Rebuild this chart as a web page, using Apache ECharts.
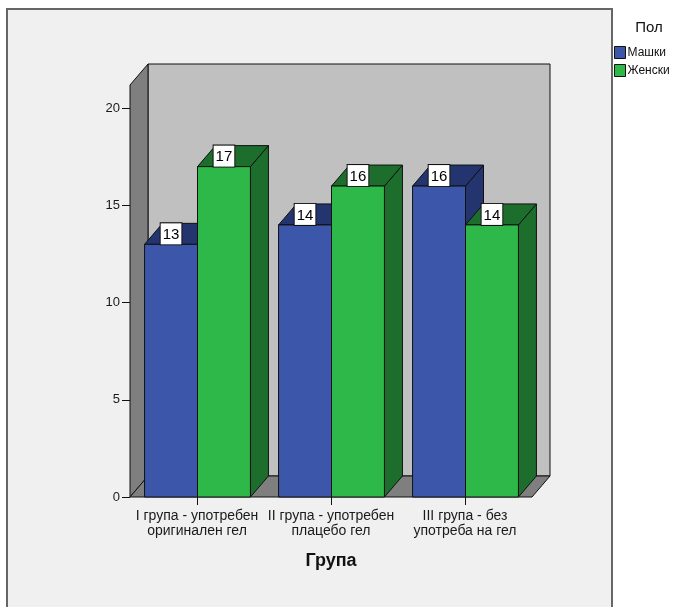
<!DOCTYPE html>
<html>
<head>
<meta charset="utf-8">
<script src="https://cdn.jsdelivr.net/npm/echarts@6/dist/echarts.min.js"></script>
<style>
  html, body { margin: 0; padding: 0; background: #ffffff; }
  #chart { width: 684px; height: 607px; }
</style>
</head>
<body>
<div id="chart"></div>
<script>
// Number of patients by group and sex
const groups = [
  'I група - употребен\nоригинален гел',
  'II група - употребен\nплацебо гел',
  'III група - без\nупотреба на гел'
];
const maleCounts = [13, 14, 16];
const femaleCounts = [17, 16, 14];
const yTicks = [0, 5, 10, 15, 20];
const yTop = 21.2;

const FONT = 'Arial, "Liberation Sans", sans-serif';
const DX = 18, DY = -21;          // depth offset of the 3D box
const EDGE = { stroke: '#111', lineWidth: 1 };

// Back wall, left wall and floor of the 3D plot box
function renderWalls(params) {
  const cs = params.coordSys;
  const L = cs.x, R = cs.x + cs.width, T = cs.y, B = cs.y + cs.height;
  return {
    type: 'group',
    children: [
      { type: 'polygon', shape: { points: [[L + DX, T + DY], [R + DX, T + DY], [R + DX, B + DY], [L + DX, B + DY]] },
        style: Object.assign({ fill: '#c0c0c0' }, EDGE) },
      { type: 'polygon', shape: { points: [[L, B], [L, T], [L + DX, T + DY], [L + DX, B + DY]] },
        style: Object.assign({ fill: '#7f7f7f' }, EDGE) },
      { type: 'polygon', shape: { points: [[L, B], [R, B], [R + DX, B + DY], [L + DX, B + DY]] },
        style: Object.assign({ fill: '#7f7f7f' }, EDGE) }
    ]
  };
}

// One 3D bar: side face, top face, front face and a boxed value label
function barRenderer(frontColor, shadeColor, leftOfCenter) {
  return function (params, api) {
    const cat = api.value(0), val = api.value(1);
    const base = api.coord([cat, 0]);
    const top = api.coord([cat, val]);
    const band = api.size([1, 0])[0];
    const w = band * 0.395;
    const x0 = leftOfCenter ? base[0] - w + 0.5 : base[0] + 0.5;
    const x1 = x0 + w;
    const yb = base[1], yt = top[1];
    return {
      type: 'group',
      children: [
        { type: 'polygon', shape: { points: [[x1, yt], [x1 + DX, yt + DY], [x1 + DX, yb + DY], [x1, yb]] },
          style: Object.assign({ fill: shadeColor }, EDGE) },
        { type: 'polygon', shape: { points: [[x0, yt], [x1, yt], [x1 + DX, yt + DY], [x0 + DX, yt + DY]] },
          style: Object.assign({ fill: shadeColor }, EDGE) },
        { type: 'rect', shape: { x: x0, y: yt, width: w, height: yb - yt },
          style: Object.assign({ fill: frontColor }, EDGE) },
        { type: 'text', z2: 100,
          style: { text: String(val), x: (x0 + x1) / 2, y: yt, align: 'center', verticalAlign: 'bottom',
                   font: '15px ' + FONT, fill: '#000', backgroundColor: '#ffffff',
                   borderColor: '#111', borderWidth: 1, padding: [4, 2, 2, 2] } }
      ]
    };
  };
}

const chart = echarts.init(document.getElementById('chart'), null, { renderer: 'canvas' });

chart.setOption({
  animation: false,
  backgroundColor: '#ffffff',
  graphic: [
    { type: 'rect', z: -5, silent: true, shape: { x: 7, y: 9, width: 605, height: 620 },
      style: { fill: '#f0f0f0', stroke: '#666666', lineWidth: 2 } },
    { type: 'text', z: 10, x: 649, y: 28,
      style: { text: 'Пол', font: '15px ' + FONT, fill: '#111', align: 'center', verticalAlign: 'middle' } }
  ],
  legend: {
    data: ['Машки', 'Женски'],
    orient: 'vertical',
    left: 614,
    top: 46,
    padding: 0,
    itemWidth: 11,
    itemHeight: 12,
    itemGap: 5,
    icon: 'rect',
    itemStyle: { borderColor: '#111', borderWidth: 1 },
    textStyle: { fontFamily: FONT, fontSize: 12, color: '#111', padding: [0, 0, 0, -3] }
  },
  grid: { left: 130, right: 152, top: 85, bottom: 110 },
  xAxis: {
    type: 'category',
    data: groups,
    axisLine: { show: false },
    axisTick: { show: true, alignWithLabel: true, length: 8, lineStyle: { color: '#111' } },
    axisLabel: { interval: 0, fontFamily: FONT, fontSize: 14, lineHeight: 15, color: '#1a1a1a', margin: 12 },
    splitLine: { show: false },
    name: 'Група',
    nameLocation: 'middle',
    nameGap: 55,
    nameTextStyle: { fontFamily: FONT, fontSize: 18, fontWeight: 'bold', color: '#111' }
  },
  yAxis: {
    type: 'value',
    min: 0,
    max: yTop,
    axisLine: { show: false },
    splitLine: { show: false },
    axisTick: { show: true, length: 8, customValues: yTicks, lineStyle: { color: '#111' } },
    axisLabel: { customValues: yTicks, fontFamily: FONT, fontSize: 13, color: '#1a1a1a', margin: 10 }
  },
  series: [
    { type: 'custom', name: 'box', renderItem: renderWalls, data: [[0, 0]], silent: true, z: 1 },
    { type: 'custom', name: 'Машки', itemStyle: { color: '#3c56a9' },
      renderItem: barRenderer('#3c56a9', '#24346f', true),
      data: maleCounts.map((v, i) => [i, v]), z: 2 },
    { type: 'custom', name: 'Женски', itemStyle: { color: '#2fb84a' },
      renderItem: barRenderer('#2fb84a', '#1d6e2d', false),
      data: femaleCounts.map((v, i) => [i, v]), z: 2 }
  ]
});
</script>
</body>
</html>
